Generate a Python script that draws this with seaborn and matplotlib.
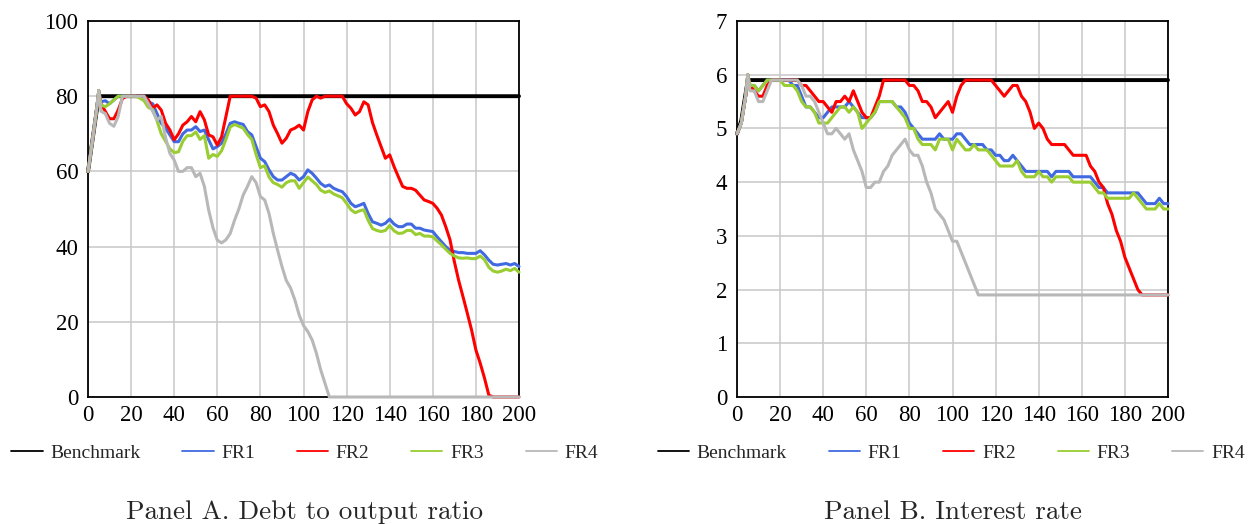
import matplotlib
matplotlib.use("Agg")
import matplotlib.pyplot as plt
import seaborn as sns
import pandas as pd
from matplotlib.lines import Line2D

# ---------------- data ----------------
t = [0, 2, 4, 5] + list(range(6, 201, 2))

series_names = ["Benchmark", "FR1", "FR2", "FR3", "FR4"]

# Panel A: debt to output ratio
debt_bench = [60, 68, 76, 80] + [80] * 98
debt_fr1 = [60, 68, 76.5, 81.5,
            78.5, 78.8, 78, 79, 80, 80, 80, 80, 80, 80,
            80, 78.5, 78, 75.4, 72.8, 71.5, 69.7, 67.9, 67.9, 70,
            71, 71, 71.9, 70.6, 71, 68.4, 66, 66.6, 67.5, 70,
            72.8, 73.2, 72.8, 72.5, 70.6, 69.7, 66.6, 63.5, 62.6, 60.4,
            58.6, 57.7, 57.7, 58.6, 59.5, 59, 57.7, 58.6, 60.4, 59.5,
            58.2, 56.8, 56, 56.4, 55.5, 55, 54.6, 53.3, 51.5, 50.6,
            51, 51.5, 48.8, 46.6, 46.2, 45.7, 46.2, 47.3, 46, 45.3,
            45.3, 46, 46, 44.9, 44.9, 44.4, 44.2, 44, 42.6, 41.3,
            40, 39, 38.7, 38.4, 38.4, 38.2, 38.2, 38.2, 38.9, 37.8,
            36.4, 35.3, 35.1, 35.3, 35.5, 35.1, 35.5, 34.7]
debt_fr2 = [60, 68, 76.5, 81.5,
            78, 76, 74, 74, 76.3, 79.4, 80, 80, 80, 80,
            80, 79, 76.8, 77.7, 76.3, 72.8, 71, 68.4, 70, 72.3,
            73.2, 74.6, 73.2, 75.9, 73.7, 69.7, 69.2, 67, 69.2, 74.6,
            80, 80, 80, 80, 80, 80, 79.5, 77.2, 77.7, 75.9,
            72.3, 70, 67.5, 68.8, 71, 71.5, 72.3, 71, 75.9, 79,
            80, 79.5, 80, 80, 80, 80, 80, 78, 76.8, 75,
            75.9, 78.5, 77.7, 73, 69.7, 66.6, 63.5, 64.4, 61.3, 58.6,
            56, 55.5, 55.5, 55, 53.7, 52.4, 52, 51.5, 50.2, 48.4,
            45.3, 41.8, 36, 31, 26.7, 22.3, 17.8, 12.5, 9, 5,
            0.5, 0, 0, 0, 0, 0, 0, 0]
debt_fr3 = [60, 68, 76.5, 81.5,
            77.7, 77.2, 78, 79, 80, 80, 80, 80, 80, 79.5,
            78.8, 77, 76.5, 73.5, 70, 68, 66, 65, 65.2, 68,
            69.5, 69.5, 70.5, 68.5, 69.5, 63.5, 64.5, 64, 65.5, 68.5,
            71.8, 72.5, 72, 71.5, 69.8, 68.5, 64.5, 61, 61.5, 58.5,
            57, 56.5, 55.8, 57, 57.5, 57.5, 55.5, 57, 58.5, 57.5,
            56.5, 55, 54.4, 54.8, 54, 53.5, 53, 51.5, 49.8, 49,
            49.5, 49.8, 47, 44.8, 44.3, 44, 44.3, 45.6, 44.2, 43.5,
            43.6, 44.3, 44.3, 43.2, 43.5, 42.8, 42.8, 42.6, 41.5, 40.5,
            39.3, 38.2, 37.5, 37, 36.9, 37, 36.8, 36.8, 37.5, 36.5,
            34.5, 33.5, 33.2, 33.5, 34, 33.6, 34.2, 33.2]
debt_fr4 = [60, 68, 76.5, 81.5,
            76, 75.4, 72.8, 72, 74.6, 80, 80, 80, 80, 80,
            80, 78, 76, 73.7, 74.6, 69, 64.8, 63, 60, 60,
            61, 61, 58.6, 59.5, 56, 49.7, 45, 41.7, 41, 41.8,
            43.5, 47, 50, 53.7, 56, 58.6, 57, 53.3, 52.4, 48.8,
            43.5, 39, 34.7, 31, 29, 25.8, 21.8, 19, 17.4, 15.2,
            11.6, 7.2, 3.6, 0, 0, 0, 0, 0, 0, 0,
            0, 0, 0, 0, 0, 0, 0, 0, 0, 0,
            0, 0, 0, 0, 0, 0, 0, 0, 0, 0,
            0, 0, 0, 0, 0, 0, 0, 0, 0, 0,
            0, 0, 0, 0, 0, 0, 0, 0]

# Panel B: interest rate
rate_bench = [4.9, 5.15, 5.65, 5.9] + [5.9] * 98
rate_fr1 = [4.9, 5.1, 5.6, 6.0,
            5.8, 5.8, 5.7, 5.8, 5.9, 5.9, 5.9, 5.9, 5.9, 5.9,
            5.8, 5.8, 5.6, 5.4, 5.4, 5.3, 5.2, 5.2, 5.3, 5.4,
            5.4, 5.4, 5.4, 5.5, 5.4, 5.3, 5.2, 5.2, 5.2, 5.3,
            5.5, 5.5, 5.5, 5.5, 5.4, 5.4, 5.3, 5.1, 5.0, 4.9,
            4.8, 4.8, 4.8, 4.8, 4.9, 4.8, 4.8, 4.8, 4.9, 4.9,
            4.8, 4.7, 4.7, 4.7, 4.7, 4.6, 4.6, 4.5, 4.5, 4.4,
            4.4, 4.5, 4.4, 4.3, 4.2, 4.2, 4.2, 4.2, 4.2, 4.2,
            4.1, 4.2, 4.2, 4.2, 4.2, 4.1, 4.1, 4.1, 4.1, 4.1,
            4.0, 3.9, 3.9, 3.8, 3.8, 3.8, 3.8, 3.8, 3.8, 3.8,
            3.8, 3.7, 3.6, 3.6, 3.6, 3.7, 3.6, 3.6]
rate_fr2 = [4.9, 5.1, 5.6, 6.0,
            5.8, 5.7, 5.6, 5.6, 5.8, 5.9, 5.9, 5.9, 5.9, 5.9,
            5.9, 5.9, 5.8, 5.8, 5.7, 5.6, 5.5, 5.5, 5.4, 5.3,
            5.5, 5.5, 5.6, 5.5, 5.7, 5.5, 5.3, 5.2, 5.2, 5.4,
            5.6, 5.9, 5.9, 5.9, 5.9, 5.9, 5.9, 5.8, 5.8, 5.7,
            5.5, 5.5, 5.4, 5.2, 5.3, 5.4, 5.5, 5.3, 5.6, 5.8,
            5.9, 5.9, 5.9, 5.9, 5.9, 5.9, 5.9, 5.8, 5.7, 5.6,
            5.7, 5.8, 5.8, 5.6, 5.5, 5.3, 5.0, 5.1, 5.0, 4.8,
            4.7, 4.7, 4.7, 4.7, 4.6, 4.5, 4.5, 4.5, 4.5, 4.3,
            4.2, 4.0, 3.9, 3.6, 3.4, 3.1, 2.9, 2.6, 2.4, 2.2,
            2.0, 1.9, 1.9, 1.9, 1.9, 1.9, 1.9, 1.9]
rate_fr3 = [4.9, 5.1, 5.6, 6.0,
            5.8, 5.8, 5.7, 5.8, 5.9, 5.9, 5.9, 5.9, 5.8, 5.8,
            5.8, 5.7, 5.5, 5.4, 5.4, 5.3, 5.1, 5.1, 5.1, 5.2,
            5.3, 5.4, 5.4, 5.3, 5.4, 5.3, 5.0, 5.1, 5.2, 5.3,
            5.5, 5.5, 5.5, 5.5, 5.4, 5.3, 5.2, 5.0, 5.0, 4.8,
            4.7, 4.7, 4.7, 4.6, 4.8, 4.8, 4.8, 4.6, 4.8, 4.7,
            4.6, 4.6, 4.7, 4.6, 4.6, 4.6, 4.5, 4.4, 4.3, 4.3,
            4.3, 4.3, 4.4, 4.2, 4.1, 4.1, 4.1, 4.2, 4.1, 4.1,
            4.0, 4.1, 4.1, 4.1, 4.1, 4.0, 4.0, 4.0, 4.0, 4.0,
            3.9, 3.8, 3.8, 3.7, 3.7, 3.7, 3.7, 3.7, 3.7, 3.8,
            3.7, 3.6, 3.5, 3.5, 3.5, 3.6, 3.5, 3.5]
rate_fr4 = [4.9, 5.1, 5.6, 6.0,
            5.7, 5.7, 5.5, 5.5, 5.7, 5.9, 5.9, 5.9, 5.9, 5.9,
            5.9, 5.9, 5.8, 5.6, 5.6, 5.5, 5.3, 5.1, 4.9, 4.9,
            5.0, 4.9, 4.8, 4.9, 4.6, 4.4, 4.2, 3.9, 3.9, 4.0,
            4.0, 4.2, 4.3, 4.5, 4.6, 4.7, 4.8, 4.6, 4.5, 4.5,
            4.3, 4.0, 3.8, 3.5, 3.4, 3.3, 3.1, 2.9, 2.9, 2.7,
            2.5, 2.3, 2.1, 1.9, 1.9, 1.9, 1.9, 1.9, 1.9, 1.9,
            1.9, 1.9, 1.9, 1.9, 1.9, 1.9, 1.9, 1.9, 1.9, 1.9,
            1.9, 1.9, 1.9, 1.9, 1.9, 1.9, 1.9, 1.9, 1.9, 1.9,
            1.9, 1.9, 1.9, 1.9, 1.9, 1.9, 1.9, 1.9, 1.9, 1.9,
            1.9, 1.9, 1.9, 1.9, 1.9, 1.9, 1.9, 1.9]

x_ticks = list(range(0, 201, 20))
debt_ticks = list(range(0, 101, 20))
rate_ticks = list(range(0, 8))

panel_titles = ["Panel A. Debt to output ratio", "Panel B. Interest rate"]

# ---------------- style ----------------
colors = {"Benchmark": "#000000", "FR1": "#4169E1", "FR2": "#FF0000",
          "FR3": "#9ACD32", "FR4": "#B8B8B8"}
widths = {"Benchmark": 2.8, "FR1": 2.2, "FR2": 2.2, "FR3": 2.2, "FR4": 2.2}

sns.set_theme(style="white")
plt.rcParams['font.family'] = ['Liberation Serif', 'DejaVu Serif']

fig = plt.figure(figsize=(12.48, 5.24), dpi=100)
axA = fig.add_axes([88 / 1248, 127 / 524, 431 / 1248, 376 / 524])
axB = fig.add_axes([737 / 1248, 127 / 524, 431 / 1248, 376 / 524])

panels = [
    (axA, [debt_bench, debt_fr1, debt_fr2, debt_fr3, debt_fr4], (0, 100), debt_ticks, 0.503),
    (axB, [rate_bench, rate_fr1, rate_fr2, rate_fr3, rate_fr4], (0, 7), rate_ticks, 0.497),
]

for ax, data, ylim, yticks, lx in panels:
    df = pd.DataFrame({"t": t})
    for name, vals in zip(series_names, data):
        df[name] = vals
    long = df.melt(id_vars="t", var_name="series", value_name="value")
    for name in series_names:
        sub = long[long["series"] == name]
        sns.lineplot(data=sub, x="t", y="value", ax=ax, color=colors[name],
                     linewidth=widths[name], legend=False, clip_on=False,
                     zorder=3, errorbar=None)
    ax.set_xlim(0, 200)
    ax.set_ylim(*ylim)
    ax.set_xticks(x_ticks)
    ax.set_yticks(yticks)
    ax.set_xlabel("")
    ax.set_ylabel("")
    ax.grid(True, color="#c8c8c8", linewidth=1.1)
    ax.set_axisbelow(True)
    for sp in ax.spines.values():
        sp.set_visible(True)
        sp.set_color("black")
        sp.set_linewidth(1.3)
        sp.set_zorder(2.5)
    ax.tick_params(axis="both", which="both", length=0, labelsize=16.5,
                   colors="black")
    ax.tick_params(axis="y", pad=7)
    ax.tick_params(axis="x", pad=6)

    handles = [Line2D([0], [0], color=colors[n], lw=1.3) for n in series_names]
    ax.legend(handles, series_names, loc="center", bbox_to_anchor=(lx, -0.149),
              ncol=5, frameon=False, fontsize=14, handlelength=1.6,
              handletextpad=0.4, columnspacing=2.15)

fig.text(305 / 1248, 1 - 512 / 524, panel_titles[0], ha="center", va="center",
         family="cmr10", fontsize=19.5)
fig.text(953 / 1248, 1 - 512 / 524, panel_titles[1], ha="center", va="center",
         family="cmr10", fontsize=19.5)

fig.savefig("out.png", dpi=100)
